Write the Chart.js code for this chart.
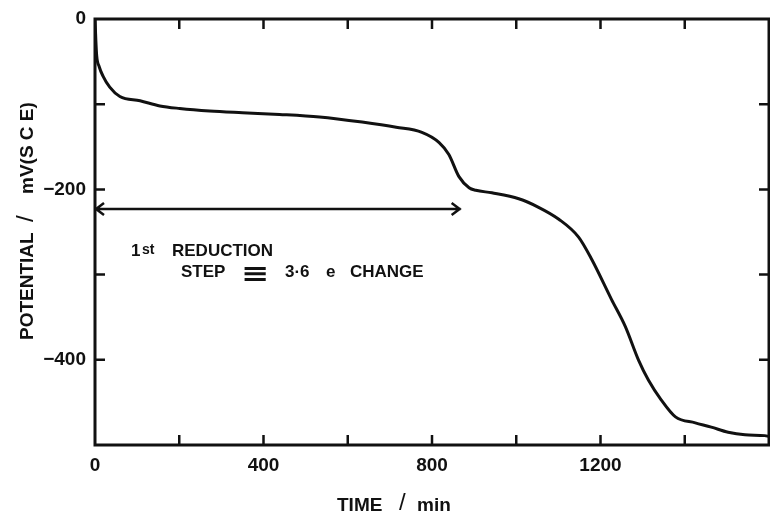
<!DOCTYPE html>
<html>
<head>
<meta charset="utf-8">
<script src="https://cdn.jsdelivr.net/npm/chart.js@4/dist/chart.umd.min.js"></script>
<style>
  html, body { margin: 0; padding: 0; background: #fff; }
  #wrap { width: 770px; height: 513px; }
</style>
</head>
<body>
<div id="wrap"><canvas id="chartCanvas" width="770" height="513"></canvas></div>
<script>
// reduction curve: potential vs time
const timeMin = [0, 1, 2, 4, 10, 19, 35, 59, 107, 154, 201, 272, 350, 438, 533, 634, 715, 776, 817, 840,
  864, 888, 904, 942, 1006, 1053, 1101, 1148, 1179, 1226, 1259, 1290, 1314, 1344, 1378, 1425, 1463, 1503, 1543, 1590, 1600];
const potentialMv = [0, -12, -25, -43, -56, -67, -80, -91, -96, -102, -105, -108, -110, -112, -115, -121, -127, -133, -145, -159,
  -185, -198, -201, -204, -211, -221, -235, -256, -282, -329, -361, -400, -424, -447, -467, -474, -479, -485, -488, -489, -490];

// axis ranges and labelled ticks
const xTicks = [0, 200, 400, 600, 800, 1000, 1200, 1400, 1600];
const xLabels = [0, 400, 800, 1200];
const yTicks = [0, -100, -200, -300, -400, -500];
const yLabels = [0, -200, -400];

// double arrow marking the first step
const stepStart = 0;
const stepEnd = 868;
const stepLevel = -223;

const FONT = "'Liberation Sans', Arial, sans-serif";
const INK = "#111";

const frame = {
  id: "frame",
  afterDraw(c) {
    const ctx = c.ctx;
    const a = c.chartArea;
    const xs = c.scales.x, ys = c.scales.y;
    ctx.save();
    ctx.strokeStyle = INK;
    ctx.lineWidth = 3;
    ctx.lineCap = "butt";
    ctx.strokeRect(a.left, a.top, a.right - a.left, a.bottom - a.top);

    // inward ticks on all four sides
    ctx.lineWidth = 2.5;
    xTicks.forEach(v => {
      if (v === xs.min || v === xs.max) return;
      const px = xs.getPixelForValue(v);
      ctx.beginPath();
      ctx.moveTo(px, a.bottom); ctx.lineTo(px, a.bottom - 10);
      ctx.moveTo(px, a.top); ctx.lineTo(px, a.top + 10);
      ctx.stroke();
    });
    yTicks.forEach(v => {
      if (v === ys.min || v === ys.max) return;
      const py = ys.getPixelForValue(v);
      ctx.beginPath();
      ctx.moveTo(a.left, py); ctx.lineTo(a.left + 10, py);
      ctx.moveTo(a.right, py); ctx.lineTo(a.right - 10, py);
      ctx.stroke();
    });

    // arrow
    const x1 = xs.getPixelForValue(stepStart);
    const x2 = xs.getPixelForValue(stepEnd);
    const y0 = ys.getPixelForValue(stepLevel);
    ctx.lineWidth = 2.5;
    ctx.beginPath();
    ctx.moveTo(x1, y0); ctx.lineTo(x2, y0);
    ctx.moveTo(x1 + 9, y0 - 6); ctx.lineTo(x1 + 1, y0); ctx.lineTo(x1 + 9, y0 + 6);
    ctx.moveTo(x2 - 9, y0 - 6); ctx.lineTo(x2 - 1, y0); ctx.lineTo(x2 - 9, y0 + 6);
    ctx.stroke();

    // annotation text
    ctx.fillStyle = INK;
    ctx.textBaseline = "alphabetic";
    ctx.textAlign = "left";
    ctx.font = "bold 17px " + FONT;
    ctx.fillText("1", 131, 256);
    ctx.font = "bold 14px " + FONT;
    ctx.fillText("st", 142, 254);
    ctx.font = "bold 17px " + FONT;
    ctx.fillText("REDUCTION", 172, 256);
    ctx.fillText("STEP", 181, 277);
    ctx.fillText("3\u00b76", 285, 277);
    ctx.fillText("e", 326, 277);
    ctx.fillText("CHANGE", 350, 277);
    // wide, flat "identical to" sign
    ctx.save();
    ctx.translate(241, 282);
    ctx.scale(1.3, 1);
    ctx.font = "bold 26px 'DejaVu Sans', sans-serif";
    ctx.fillText("\u2261", 0, 0);
    ctx.restore();

    // x axis title
    ctx.font = "bold 19px " + FONT;
    ctx.fillText("TIME", 337, 511);
    ctx.font = "24px " + FONT;
    ctx.fillText("/", 399, 510);
    ctx.font = "bold 19px " + FONT;
    ctx.fillText("min", 417, 511);

    // y axis title, rotated
    ctx.translate(33, 340);
    ctx.rotate(-Math.PI / 2);
    ctx.fillText("POTENTIAL", 0, 0);
    ctx.font = "24px " + FONT;
    ctx.fillText("/", 118, 0);
    ctx.font = "bold 19px " + FONT;
    ctx.fillText("mV(S C E)", 146, 0);
    ctx.restore();
  }
};

new Chart(document.getElementById("chartCanvas"), {
  type: "line",
  data: {
    datasets: [{
      data: timeMin.map((t, i) => ({ x: t, y: potentialMv[i] })),
      borderColor: INK,
      borderWidth: 3,
      pointRadius: 0,
      fill: false,
      cubicInterpolationMode: "monotone"
    }]
  },
  options: {
    responsive: false,
    animation: false,
    layout: { padding: { top: 19, right: 1, left: 0, bottom: 0 } },
    plugins: { legend: { display: false }, tooltip: { enabled: false } },
    scales: {
      x: {
        type: "linear",
        min: 0,
        max: 1600,
        afterFit(s) { s.height = 68; s.paddingLeft = 0; s.paddingRight = 0; },
        grid: { display: false, drawTicks: false },
        border: { display: false },
        ticks: {
          stepSize: 200,
          autoSkip: false,
          maxRotation: 0,
          padding: 9,
          color: INK,
          font: { family: FONT, size: 19, weight: "bold" },
          callback: v => xLabels.includes(v) ? String(v) : ""
        }
      },
      y: {
        min: -500,
        max: 0,
        afterFit(s) { s.width = 95; s.paddingTop = 0; s.paddingBottom = 0; },
        grid: { display: false, drawTicks: false },
        border: { display: false },
        ticks: {
          stepSize: 100,
          autoSkip: false,
          padding: 9,
          color: INK,
          font: { family: FONT, size: 19, weight: "bold" },
          callback: v => yLabels.includes(v) ? (v < 0 ? "\u2212" + Math.abs(v) : String(v)) : ""
        }
      }
    }
  },
  plugins: [frame]
});
</script>
</body>
</html>
